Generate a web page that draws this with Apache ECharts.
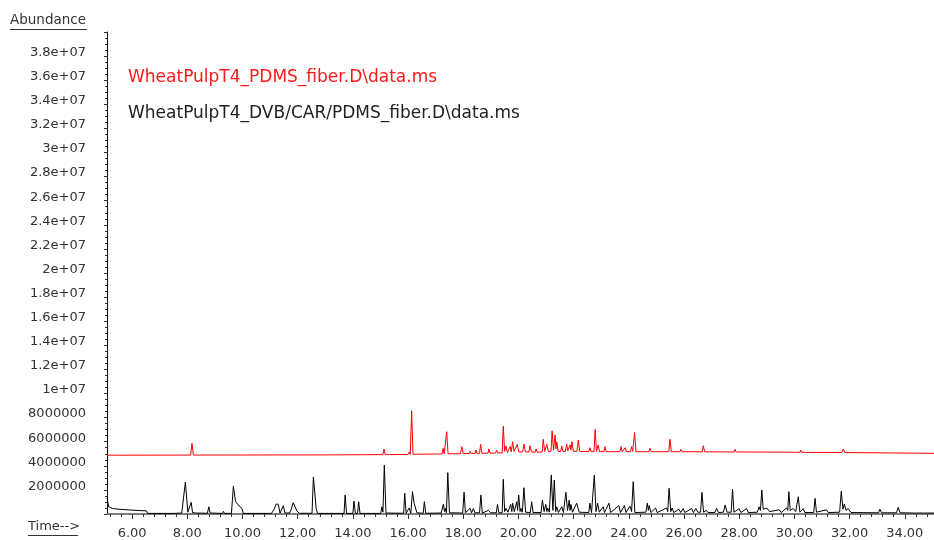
<!DOCTYPE html>
<html>
<head>
<meta charset="utf-8">
<title>TIC overlay</title>
<script src="https://cdn.jsdelivr.net/npm/echarts@6/dist/echarts.min.js"></script>
<style>
  html, body { margin: 0; padding: 0; background: #fff; }
  #chart { width: 934px; height: 540px; }
</style>
</head>
<body>
<div id="chart"></div>
<script>
// abundance values are in millions (x 1e6), time in minutes
const redName = 'WheatPulpT4_PDMS_fiber.D\\data.ms'
const blackName = 'WheatPulpT4_DVB/CAR/PDMS_fiber.D\\data.ms'

const xTicks = [6, 8, 10, 12, 14, 16, 18, 20, 22, 24, 26, 28, 30, 32, 34]

const blackTrace = [
  [5.09, 1.35], [5.15, 0.6], [5.3, 0.45], [5.6, 0.38], [6.0, 0.32], [6.52, 0.26], [6.56, 0.05],
  [7.5, 0.05], [7.8, 0.08], [7.93, 2.65], [8.02, 0.15], [8.09, 0.12], [8.14, 0.97], [8.19, 0.12], [8.3, 0.08],
  [8.73, 0.06], [8.78, 0.6], [8.83, 0.08], [9.28, 0.05], [9.31, 0.22], [9.35, 0.05],
  [9.6, 0.05], [9.67, 2.3], [9.75, 1.02], [9.88, 0.66], [9.98, 0.47], [10.03, 0.05],
  [11.05, 0.05], [11.15, 0.4], [11.22, 0.83], [11.3, 0.8], [11.36, 0.06], [11.43, 0.08], [11.48, 0.69], [11.54, 0.08],
  [11.7, 0.08], [11.76, 0.33], [11.84, 0.94], [11.97, 0.25], [12.06, 0.06],
  [12.52, 0.06], [12.57, 3.07], [12.67, 0.47], [12.72, 0.05],
  [13.68, 0.05], [13.72, 1.58], [13.77, 0.05], [14.0, 0.05], [14.04, 1.08], [14.09, 0.05],
  [14.17, 0.05], [14.21, 1.02], [14.26, 0.05], [14.47, 0.05], [14.5, 0.2], [14.53, 0.05],
  [15.01, 0.05], [15.05, 0.6], [15.09, 0.15], [15.14, 4.07], [15.2, 0.08],
  [15.84, 0.06], [15.88, 1.72], [15.93, 0.06], [16.04, 0.5], [16.1, 0.06], [16.16, 1.85], [16.22, 0.9], [16.32, 0.1],
  [16.55, 0.06], [16.59, 1.02], [16.64, 0.06],
  [17.2, 0.08], [17.28, 0.8], [17.32, 0.2], [17.35, 0.47], [17.39, 0.1], [17.44, 3.43], [17.5, 0.1],
  [17.98, 0.08], [18.03, 1.8], [18.08, 0.1], [18.25, 0.47], [18.3, 0.1], [18.37, 0.45], [18.42, 0.1],
  [18.59, 0.1], [18.64, 1.58], [18.69, 0.08], [18.91, 0.3], [19.0, 0.1], [19.2, 0.1], [19.24, 0.8], [19.29, 0.1],
  [19.41, 0.1], [19.45, 2.88], [19.5, 0.2], [19.55, 0.47], [19.62, 0.15], [19.72, 0.8], [19.76, 0.2], [19.79, 0.9], [19.85, 0.2],
  [19.94, 1.02], [19.97, 0.3], [20.01, 1.58], [20.06, 0.2], [20.09, 0.47], [20.14, 0.15], [20.2, 2.18], [20.26, 0.15],
  [20.43, 0.12], [20.48, 1.02], [20.53, 0.12], [20.82, 0.12], [20.87, 1.16], [20.93, 0.2], [20.99, 0.8], [21.03, 0.2],
  [21.06, 0.5], [21.12, 0.15], [21.19, 3.24], [21.25, 0.3], [21.3, 2.82], [21.35, 0.2], [21.39, 0.6], [21.45, 0.12],
  [21.57, 0.6], [21.63, 0.12], [21.68, 0.12], [21.72, 1.8], [21.78, 0.3], [21.84, 1.16], [21.87, 0.3], [21.9, 0.8], [21.96, 0.15],
  [22.11, 0.9], [22.2, 0.15], [22.55, 0.12], [22.59, 0.9], [22.65, 0.12], [22.71, 0.12], [22.75, 3.24], [22.81, 0.2],
  [22.87, 0.9], [22.93, 0.15], [23.07, 0.6], [23.12, 0.12], [23.28, 0.9], [23.34, 0.12], [23.64, 0.7], [23.7, 0.12],
  [23.84, 0.7], [23.9, 0.12], [24.04, 0.66], [24.1, 0.2], [24.16, 2.68], [24.22, 0.12],
  [24.62, 0.15], [24.67, 0.9], [24.71, 0.3], [24.74, 0.7], [24.8, 0.12], [24.97, 0.5], [25.03, 0.12],
  [25.37, 0.5], [25.41, 0.2], [25.46, 2.13], [25.52, 0.2], [25.57, 0.5], [25.63, 0.12],
  [25.82, 0.4], [25.88, 0.12], [25.97, 0.45], [26.03, 0.12], [26.28, 0.45], [26.34, 0.12], [26.43, 0.45], [26.5, 0.15],
  [26.6, 0.15], [26.65, 1.8], [26.71, 0.15], [26.81, 0.3], [26.87, 0.12],
  [27.12, 0.12], [27.18, 0.47], [27.25, 0.12], [27.43, 0.15], [27.49, 0.75], [27.56, 0.15], [27.71, 0.15], [27.76, 2.05], [27.81, 0.15],
  [28.0, 0.45], [28.06, 0.12], [28.27, 0.45], [28.33, 0.12], [28.66, 0.15], [28.72, 0.6], [28.77, 0.3], [28.82, 2.0], [28.87, 0.4],
  [29.0, 0.5], [29.1, 0.2], [29.45, 0.35], [29.52, 0.12], [29.72, 0.5], [29.76, 0.3], [29.8, 1.85], [29.85, 0.3],
  [29.96, 0.45], [30.05, 0.2], [30.1, 0.15], [30.14, 1.43], [30.2, 0.15], [30.32, 0.45], [30.38, 0.12],
  [30.7, 0.12], [30.75, 1.3], [30.8, 0.15], [31.17, 0.35], [31.23, 0.12], [31.64, 0.15], [31.7, 1.9], [31.76, 0.4],
  [31.81, 0.83], [31.87, 0.3], [31.95, 0.45], [32.05, 0.12],
  [33.05, 0.1], [33.1, 0.4], [33.16, 0.1], [33.7, 0.1], [33.76, 0.55], [33.83, 0.1],
  [34.32, 0.08], [34.37, 0.2], [34.43, 0.08], [34.68, 0.08], [34.73, 0.2], [34.79, 0.08], [35.06, 0.08]
]

const redTrace = [
  [5.09, 4.88], [5.4, 4.88], [5.42, 4.95], [5.45, 4.88], [8.12, 4.89], [8.17, 5.87], [8.22, 4.89],
  [11.27, 4.9], [11.3, 4.96], [11.33, 4.9], [12.48, 4.9], [12.51, 4.98], [12.54, 4.9],
  [14.45, 4.92], [14.48, 4.96], [14.51, 4.92],
  [15.09, 4.93], [15.13, 5.39], [15.17, 4.93], [15.99, 4.94], [16.04, 5.15], [16.08, 4.94], [16.13, 8.57], [16.18, 4.95],
  [17.0, 4.98], [17.05, 5.12], [17.1, 4.98], [17.23, 4.98], [17.27, 5.45], [17.31, 5.0], [17.36, 5.0], [17.4, 6.83], [17.45, 5.0],
  [17.9, 5.0], [17.95, 5.59], [18.0, 5.02], [18.22, 5.02], [18.25, 5.2], [18.29, 5.02], [18.43, 5.03], [18.46, 5.3], [18.5, 5.03],
  [18.59, 5.03], [18.63, 5.78], [18.68, 5.04], [18.9, 5.05], [18.93, 5.4], [18.97, 5.05], [19.17, 5.06], [19.21, 5.3], [19.25, 5.06],
  [19.41, 5.07], [19.45, 7.3], [19.5, 5.2], [19.55, 5.64], [19.6, 5.1],
  [19.66, 5.1], [19.7, 5.6], [19.74, 5.15], [19.79, 6.0], [19.84, 5.2], [19.9, 5.15], [19.96, 5.78], [20.01, 5.15],
  [20.15, 5.15], [20.2, 5.8], [20.25, 5.15], [20.38, 5.15], [20.42, 5.67], [20.47, 5.15],
  [20.6, 5.12], [20.64, 5.4], [20.68, 5.12], [20.86, 5.15], [20.9, 6.2], [20.95, 5.2], [21.03, 5.78], [21.08, 5.2],
  [21.18, 5.2], [21.22, 6.91], [21.27, 5.3], [21.33, 6.56], [21.36, 5.4], [21.39, 6.0], [21.44, 5.2],
  [21.53, 5.18], [21.57, 5.64], [21.61, 5.2], [21.7, 5.2], [21.75, 5.8], [21.79, 5.25], [21.87, 5.73], [21.9, 5.3],
  [21.94, 6.0], [21.99, 5.2], [22.12, 5.2], [22.17, 6.14], [22.22, 5.2],
  [22.55, 5.17], [22.59, 5.5], [22.63, 5.17], [22.74, 5.17], [22.78, 7.03], [22.83, 5.2], [22.89, 5.73], [22.94, 5.18],
  [23.1, 5.17], [23.14, 5.59], [23.18, 5.17],
  [23.68, 5.17], [23.72, 5.59], [23.76, 5.17], [23.83, 5.17], [23.87, 5.5], [23.91, 5.17], [24.06, 5.17], [24.1, 5.59],
  [24.14, 5.2], [24.17, 5.2], [24.21, 6.75], [24.26, 5.17],
  [24.73, 5.17], [24.77, 5.45], [24.81, 5.17], [25.45, 5.17], [25.49, 6.2], [25.54, 5.17], [25.85, 5.17], [25.89, 5.37], [25.93, 5.17],
  [26.66, 5.16], [26.7, 5.67], [26.75, 5.16], [27.07, 5.16], [27.1, 5.25], [27.13, 5.16], [27.52, 5.15], [27.55, 5.23], [27.58, 5.15],
  [27.82, 5.15], [27.85, 5.37], [27.89, 5.15],
  [28.84, 5.14], [28.87, 5.25], [28.9, 5.14], [29.81, 5.13], [29.84, 5.25], [29.87, 5.13], [30.2, 5.12], [30.23, 5.3], [30.26, 5.12],
  [31.72, 5.1], [31.77, 5.39], [31.83, 5.1], [33.86, 5.06], [33.89, 5.12], [33.92, 5.06],
  [34.4, 5.05], [34.43, 5.09], [34.46, 5.05], [35.06, 5.03]
]

const tMin = 5.09
const tMax = 35.06
const fontName = 'DejaVu Sans'

// minor ticks every 0.4 min
const xMinor = []
for (let t = 5.2; t < tMax; t += 0.4) {
  const v = Math.round(t * 10) / 10
  if (xTicks.indexOf(v) < 0) xMinor.push(v)
}

function yLabel(v) {
  const n = v * 1e6
  let s = String(Math.round(n))
  if (n >= 1e7) {
    s = n.toExponential().replace(/e\+(\d)$/, 'e+0$1')
  }
  return '{t|' + s + '}'
}

const chart = echarts.init(document.getElementById('chart'), null, { renderer: 'canvas' })

chart.setOption({
  animation: false,
  textStyle: { fontFamily: fontName },
  grid: { left: 107, right: 0, top: 32, bottom: 26, containLabel: false },
  legend: {
    left: 128,
    top: 69,
    padding: 0,
    orient: 'vertical',
    icon: 'none',
    itemWidth: 0,
    itemHeight: 14,
    itemGap: 19,
    selectedMode: false,
    textStyle: { fontSize: 17, fontFamily: fontName, padding: [0, 0, 0, -5] },
    data: [
      { name: redName, textStyle: { color: '#ff1a1a' } },
      { name: blackName, textStyle: { color: '#222' } }
    ]
  },
  xAxis: [
    {
      type: 'value',
      min: tMin,
      max: tMax,
      position: 'bottom',
      splitLine: { show: false },
      axisLine: { show: true, lineStyle: { color: '#555', width: 1.5 } },
      axisTick: { show: true, length: 5, customValues: xTicks, lineStyle: { color: '#333' } },
      axisLabel: {
        customValues: xTicks,
        margin: 13,
        color: '#333',
        fontSize: 13,
        fontFamily: fontName,
        formatter: function (v) { return v.toFixed(2) }
      }
    },
    {
      type: 'value',
      min: tMin,
      max: tMax,
      position: 'bottom',
      splitLine: { show: false },
      axisLine: { show: false },
      axisTick: { show: true, length: 3, customValues: xMinor, lineStyle: { color: '#333' } },
      axisLabel: { show: false }
    }
  ],
  yAxis: {
    type: 'value',
    min: 0,
    max: 40,
    interval: 2,
    splitLine: { show: false },
    axisLine: { show: true, lineStyle: { color: '#111' } },
    axisTick: { show: true, length: 3, lineStyle: { color: '#333' } },
    minorTick: { show: true, splitNumber: 4, length: 2, lineStyle: { color: '#333' } },
    axisLabel: {
      margin: 21,
      showMinLabel: false,
      showMaxLabel: false,
      formatter: yLabel,
      rich: {
        t: { color: '#333', fontSize: 13, fontFamily: fontName, padding: [0, 0, 7, 0] }
      }
    }
  },
  series: [
    {
      name: redName,
      type: 'line',
      data: redTrace,
      showSymbol: false,
      lineStyle: { color: '#ff0000', width: 1 },
      itemStyle: { color: '#ff0000' }
    },
    {
      name: blackName,
      type: 'line',
      data: blackTrace,
      showSymbol: false,
      lineStyle: { color: '#000', width: 1 },
      itemStyle: { color: '#000' }
    }
  ],
  graphic: [
    { type: 'text', left: 10, top: 13, style: { text: 'Abundance', fontSize: 13.5, fontFamily: fontName, fill: '#333' } },
    { type: 'line', shape: { x1: 10, y1: 29.5, x2: 87, y2: 29.5 }, style: { stroke: '#333', lineWidth: 1 } },
    { type: 'text', left: 28, top: 520, style: { text: 'Time-->', fontSize: 13, fontFamily: fontName, fill: '#333' } },
    { type: 'line', shape: { x1: 28, y1: 535.5, x2: 78, y2: 535.5 }, style: { stroke: '#333', lineWidth: 1 } }
  ]
})
</script>
</body>
</html>
